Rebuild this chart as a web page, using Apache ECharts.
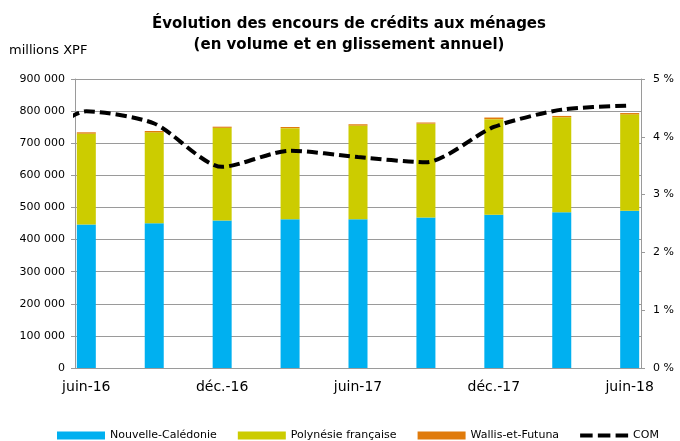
<!DOCTYPE html>
<html>
<head>
<meta charset="utf-8">
<script src="https://cdn.jsdelivr.net/npm/echarts@6/dist/echarts.min.js"></script>
<style>
  html, body { margin: 0; padding: 0; background: #fff; }
  #chart { width: 680px; height: 441px; }
</style>
</head>
<body>
<div id="chart"></div>
<script>
// noms de mois (abréviations Excel)
var monthNames = ['janv.', 'févr.', 'mars', 'avr.', 'mai', 'juin', 'juil.', 'août', 'sept.', 'oct.', 'nov.', 'déc.'];

// trimestres des barres
var quarters = ['juin-16', 'sept.-16', 'déc.-16', 'mars-17', 'juin-17', 'sept.-17', 'déc.-17', 'mars-18', 'juin-18'];
// encours en millions XPF
var nouvelleCaledonie = [447000, 451000, 459000, 463000, 463000, 469000, 477000, 485000, 490000];
var polynesieFrancaise = [283000, 283000, 289000, 284000, 292000, 292000, 298000, 296000, 300000];
var wallisEtFutuna = [4000, 4000, 3500, 3500, 4000, 3500, 5000, 4000, 4000];

// glissement annuel COM (%) - mars-16 est coupé par l'axe
var comQuarters = ['mars-16', 'juin-16', 'sept.-16', 'déc.-16', 'mars-17', 'juin-17', 'sept.-17', 'déc.-17', 'mars-18', 'juin-18'];
var com = [3.66, 4.44, 4.23, 3.48, 3.76, 3.65, 3.56, 4.17, 4.47, 4.54];

// axe des mois : juin-16 -> juin-18
var firstMonth = 'juin-16';
var monthCount = 25;

function monthIndex(label) {
  var parts = label.split('-');
  var m = monthNames.indexOf(parts[0]);
  var y = parseInt(parts[1], 10);
  var p0 = firstMonth.split('-');
  return (y - parseInt(p0[1], 10)) * 12 + m - monthNames.indexOf(p0[0]);
}
function monthLabel(i) {
  var p0 = firstMonth.split('-');
  var k = monthNames.indexOf(p0[0]) + i;
  return monthNames[k % 12] + '-' + (parseInt(p0[1], 10) + Math.floor(k / 12));
}
var months = [];
for (var i = 0; i < monthCount; i++) months.push(monthLabel(i));

function pairs(vals) {
  return quarters.map(function (q, j) { return [q, vals[j]]; });
}

var font = 'DejaVu Sans';
var gray = '#9a9a9a';

var chart = echarts.init(document.getElementById('chart'));
chart.setOption({
  animation: false,
  textStyle: { fontFamily: font },
  color: ['#00b0f0', '#cccc00', '#e07b0c', '#000'],
  title: [{
    text: 'Évolution des encours de crédits aux ménages\n(en volume et en glissement annuel)',
    left: 349,
    top: 14,
    padding: 0,
    textAlign: 'center',
    textStyle: { fontFamily: font, fontSize: 15, fontWeight: 'bold', lineHeight: 21, color: '#000' }
  }, {
    text: 'millions XPF',
    left: 9,
    top: 44,
    padding: 0,
    textStyle: { fontFamily: font, fontSize: 13, fontWeight: 'normal', color: '#000' }
  }],
  legend: {
    left: 57,
    top: 430,
    padding: 0,
    itemWidth: 48,
    itemHeight: 8,
    itemGap: 21,
    icon: 'rect',
    textStyle: { fontFamily: font, fontSize: 11, color: '#000' },
    data: [
      'Nouvelle-Calédonie',
      'Polynésie française',
      'Wallis-et-Futuna',
      { name: 'COM', icon: 'path://M0,0h12v4h-12z M17,0h12v4h-12z M34,0h12v4h-12z', itemStyle: { color: '#000' } }
    ]
  },
  grid: { left: 75, right: 39, top: 79, bottom: 73 },
  xAxis: [{
    type: 'category',
    data: months,
    boundaryGap: true,
    axisLine: { lineStyle: { color: gray, width: 1 } },
    axisTick: { interval: 5, length: 5, lineStyle: { color: gray } },
    axisLabel: { interval: 5, margin: 12, fontSize: 14, color: '#000', fontFamily: font },
    splitLine: { show: false }
  }, {
    type: 'value',
    min: 0,
    max: monthCount,
    show: false
  }],
  yAxis: [{
    type: 'value',
    min: 0,
    max: 900000,
    interval: 100000,
    axisLine: { show: true, lineStyle: { color: gray } },
    axisTick: { show: true, length: 4, lineStyle: { color: gray } },
    axisLabel: {
      fontSize: 11, color: '#000', margin: 10, fontFamily: font,
      formatter: function (v) { return String(v).replace(/\B(?=(\d{3})+(?!\d))/g, ' '); }
    },
    splitLine: { show: true, lineStyle: { color: gray, width: 1 } }
  }, {
    type: 'value',
    min: 0,
    max: 5,
    interval: 1,
    position: 'right',
    axisLine: { show: true, lineStyle: { color: gray } },
    axisTick: { show: true, length: 4, lineStyle: { color: gray } },
    axisLabel: { fontSize: 11, color: '#000', margin: 12, fontFamily: font, formatter: '{value} %' },
    splitLine: { show: false }
  }],
  series: [{
    name: 'Nouvelle-Calédonie',
    type: 'bar',
    stack: 'encours',
    barWidth: 19,
    data: pairs(nouvelleCaledonie)
  }, {
    name: 'Polynésie française',
    type: 'bar',
    stack: 'encours',
    barWidth: 19,
    data: pairs(polynesieFrancaise)
  }, {
    name: 'Wallis-et-Futuna',
    type: 'bar',
    stack: 'encours',
    barWidth: 19,
    data: pairs(wallisEtFutuna)
  }, {
    name: 'COM',
    type: 'line',
    xAxisIndex: 1,
    yAxisIndex: 1,
    symbol: 'none',
    smooth: 0.25,
    clip: true,
    lineStyle: { color: '#000', width: 4, type: [11, 5] },
    itemStyle: { color: '#000' },
    data: comQuarters.map(function (q, j) { return [monthIndex(q) + 0.5, com[j]]; })
  }]
});
</script>
</body>
</html>
